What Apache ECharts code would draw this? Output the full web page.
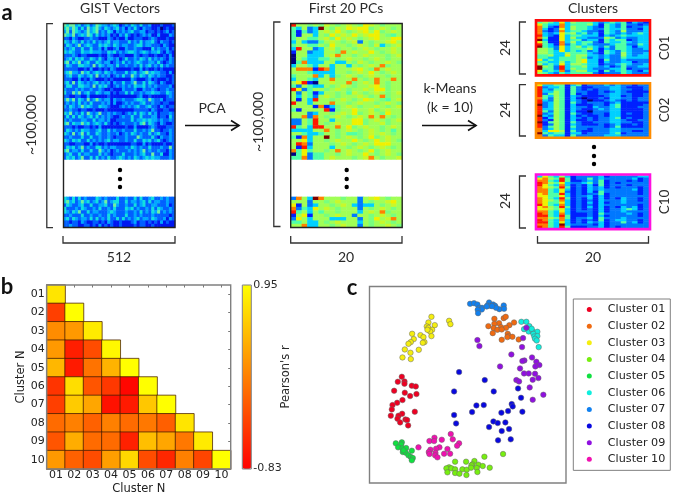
<!DOCTYPE html>
<html><head><meta charset="utf-8">
<style>html,body{margin:0;padding:0;background:#fff}#c{width:675px;height:496px}</style>
<script src="https://cdn.jsdelivr.net/npm/echarts@6/dist/echarts.min.js"></script>
</head><body><div id="c"></div>
<script>
const jetColors=['#00007f','#0020ff','#0078ff','#00d0ff','#50ffa6','#a0ff56','#f0f000','#ff8000','#ff1800','#7f0000'];
const gistColors=['#00007f','#0018f0','#0060ff','#00a8ff','#10e0e0','#70f0a0'];
const autumnColors=['#ff0000','#ffff00'];
const gistTop=[
"54553423423543323431232432422311121112","45364242534532432342313242132211201211","35254323534523243132323422331221212312","54352343542423231213242121232311311132",
"22132112232211132121131122211232111211","43243242324232342332224232423342132212","24323523432243432432332234423322213211","32342242242231311231132232211142322312",
"43432243343332243423234432343233421321","22232122111121132112211132122112112131","23424342243242133231242232432423232132","45243523422432331232423234322332421232",
"24322443325243233242232232423423242322","22222112131121213211111211312112121111","34533253423432432322242342345343322131","23422432342523231232422532432432322112",
"22211312132111212111111321112312111212","34252432323423231322422352242432132112","24422443325243421232323243342323222231","32223232232232112111322231132232122322",
"42253523422432331212242422323343322432","22112211311111121111111112311211111232","35352432523532331322322234432532231222","23232423242223231311232322342232212211",
"32432353432243321112323234223422132122","22322122112111211111111122222132112211","43523242532352232322123242432423122232","24242432342423232112322422422233122142",
"32322233224233231122222423343433232232","45243353423432421212322232452432132112","22212112212131111111121131111232111222","24323243322342242322322242232352212232",
"43252352422432232231232432322423422132","22322242242232232122232225322242132232","43243422423232342332232242243423421232","22112221131211211111111221131211112112",
"24342352322442323322232432322422232252","45233242242253231232223232352322322132","23422423322242321222422232342252241132","24342352242423242234323243234343322232"];
const gistBottom=[
"43242423222432322242232242422342232322","45342353423423523442242332342423322322","24322342242233422532232242342233222312","42223243223242232422243423223242432232",
"43243522423322234322232232423243523232","22322242232232242322242232322232222212","34243233242423242242423234233243223132","22122132112212132112111231221212131211",
"22322112212131212112111121221121111111"];
const pcTop=[
"855a5ab5a5b5a6b5a555","4352395ab56b66a5b5a5","414235b565a5b656a5b5","415535a65b565b665a45","455445ba65b5a5b65566",
"3532245b5a5b25a55b65","455445a655a5b5ab3a5b","3855235ba55a5b5a55b5","15523355a75b5565a5b5","0553335b755a5b555a5b",
"05433445a5b55a5b5a55","04733355335ab5a55b5a","355435535535a5b57a55","57771873555b65a75b55","5554333355a5b565a5b5",
"45557353a5b5a5b55a55","3554355755575a575575","5681055b557a5b575a55","4254335a5b5a55b65a55","862455a5b5a55b566a55",
"52541355a54b5a5b5a5b","535425b5a555b5a57a55","5153855a5b5a56b5a45b","8553555755a5b55a5b5a","55551713a5b5a55b5a5b",
"41555581a55655ba5b55","5552355a5b56a5b5a655","557275a5b5a5b57575a5","2254855355566a5b5a5b","225485a5b5566a55ba55",
"84538855756a5b55a5b5","33335575a5b5a5b5a545","55433455a544a5b5b5a5","41735595a5b5a56a5b55","556355a5b5565a565b5a",
"5872555a5b5a5b566655","5183555355a5b5a5b5a5","746455a575b5a56a5b55","04624455a5b5565a5b5a","4472445b555a5b75a55b"];
const pcBottom=["275397555a5525b65a55","555255a5b55525a55b65","6152355a5b532335a5b5","724365b5a55525a5b5a5","84535455a55535b57a55",
"156155a5b55255a5b5a5","26535553335525a65b75","445335a5b55535a5b5a5","5573355a5b5525a55b5a"];
const halfSteps={a:4.5,b:5.5};
const c01=["45436354443234341321","64337344453143242212","74217354432143241223","73126354432243342213","72127344322143252223","73236453423143232343",
"83216344333132343333","74116353322254232233","93116344233143441233","64117353442143343233","84317243432223442243","94326345343242443133",
"55426344453132443223","55436343423143243222","55433544432143253223","44533645533232253233","44334445423232243333","63434445633142232222",
"44335345633132233122","53436355433122343223","95428344533231242233","94428354432223341222","63437245533142343213","54324344442122243222"];
const c02=["63344134122232322122","82334142112223321112","83244142121223322112","83354142211212321111","82454141211223322112","84354132111123312112",
"74254131011213322122","83254132101123212122","82354142122212311111","92354131112213411112","82354132213223411122","83354132112323311112",
"84254131102223311112","82354142112213312112","93254131211213311112","81354132121223412112","82154131121223321122","91454142112223322112",
"81254132111212311212","82454142222212411112","72354132212223322222","73665142112223322112","94344133122223412222","72433142222233322222"];
const c10=["36435312222312222233","67548412242322222312","77438411232412221212","87546322342412122222","86437312131412221222","76548412132312122212",
"77436312132322222312","77436212131422222212","67448312122412222212","66446312231312222222","76438412131312132212","76547312121322232212",
"76446312131312232222","86437312121322222212","67548412131312132312","66546312121312234312","77436312221312232222","87437311121422223212",
"88438411121312222212","77547412231422232222","87437312121412332212","88436312132312242312","77439322221312222222","87438411122312122222"];
const corrLabels=['01','02','03','04','05','06','07','08','09','10'];
const corrValues=[
[0.77],
[-0.39,0.95],
[0.15,0.24,0.81],
[0.24,-0.62,-0.30,0.90],
[0.45,-0.65,-0.03,0.42,0.95],
[-0.47,0.72,-0.24,-0.44,-0.79,0.95],
[-0.39,0.59,0.33,-0.71,-0.65,0.56,0.95],
[-0.08,0.06,-0.15,0.06,-0.08,0.01,-0.17,0.77],
[-0.24,0.38,-0.08,-0.08,-0.60,0.50,0.33,0.01,0.81],
[0.24,-0.15,-0.30,0.27,0.68,-0.30,-0.56,0.06,-0.35,0.95]];
const clusterNames=['Cluster 01','Cluster 02','Cluster 03','Cluster 04','Cluster 05','Cluster 06','Cluster 07','Cluster 08','Cluster 09','Cluster 10'];
const clusterColors=['#ee0022','#f06a10','#f5ee10','#77ee10','#10e040','#10eedd','#1080f0','#0808e0','#9010e0','#f010b0'];
const p01=[[185,319],[173,334],[193,333],[193,340],[215,346],[227,348],[162,361],[194,367],[210,377],[229,371],[187,389],[171,397],[157,404],[155,417],[224,424],[152,436],[186,430],[175,436],[172,445],[196,447],[201,449],[180,456],[204,465]];
const p02=[[463,145],[491,143],[497,139],[477,158],[463,160],[522,156],[508,164],[445,167],[461,173],[483,170],[472,178],[498,172],[485,177],[458,188],[503,190],[506,197],[517,199],[485,208],[536,207],[502,200]];
const p03=[[274,139],[265,156],[284,164],[260,168],[265,172],[276,178],[270,183],[327,151],[331,161],[216,190],[241,194],[250,200],[221,206],[212,215],[205,220],[253,215],[248,217],[194,237],[236,238],[211,247],[187,261],[212,266],[274,197],[262,178]];
const p04=[[433,559],[489,551],[345,574],[378,574],[403,572],[397,582],[394,585],[415,583],[428,587],[449,592],[410,593],[327,591],[319,594],[334,594],[345,597],[367,597],[380,598],[393,592],[322,606],[345,608],[358,610],[379,614],[412,605]];
const p05=[[185,516],[167,519],[183,522],[174,531],[187,534],[198,533],[215,541],[188,545],[197,547],[205,555],[212,560],[218,563],[215,570],[190,540]];
const p06=[[544,154],[559,154],[568,167],[552,176],[570,178],[566,183],[578,183],[592,184],[580,190],[583,198],[592,197],[585,205],[590,210],[596,230],[575,175]];
const p07=[[390,100],[402,98],[412,102],[418,112],[426,112],[425,117],[413,118],[414,128],[447,96],[442,105],[450,106],[459,102],[465,106],[478,116],[491,105],[492,115],[468,112],[440,108],[456,107]];
const p08=[[357,305],[434,329],[342,363],[461,363],[534,354],[543,382],[409,405],[431,404],[515,401],[518,408],[396,425],[342,434],[484,427],[504,422],[547,424],[348,459],[460,453],[473,458],[496,456],[447,470],[507,476],[485,482],[474,510],[512,507]];
const p09=[[559,172],[549,203],[412,209],[418,227],[546,230],[514,252],[576,261],[553,270],[547,272],[589,274],[480,288],[598,284],[586,288],[540,294],[552,309],[566,309],[585,310],[595,323],[578,328],[529,329],[537,333],[569,351],[610,373],[578,388]];
const p10=[[332,491],[283,502],[338,507],[268,512],[282,512],[305,508],[357,519],[351,526],[235,531],[322,536],[298,531],[288,535],[271,538],[266,545],[286,548],[268,551],[312,550],[330,550],[285,555],[292,561]];
const clusterPoints=[p01,p02,p03,p04,p05,p06,p07,p08,p09,p10];

const grids=[
 {left:63.5,top:23.5,width:111.5,height:204},
 {left:290.7,top:23.5,width:111.5,height:204},
 {left:537,top:21.5,width:112,height:53},
 {left:537,top:84.3,width:112,height:52.5},
 {left:537,top:175.6,width:112,height:52.5},
 {left:46.7,top:285,width:184,height:184},
 {left:369.5,top:286.5,width:196.5,height:196.5}
];
const xAxis=[],yAxis=[],series=[];
function cat(n){return Array.from({length:n},(_,i)=>String(i));}
function cell(ch){return ch in halfSteps?halfSteps[ch]:+ch;}
function addHeat(g,rowsList){
  const nc=rowsList[0][0].length;let nr=0;const data=[];
  rowsList.forEach(rs=>{rs.forEach(s=>{if(s)[...s].forEach((ch,c)=>data.push([c,nr,cell(ch)]));nr++;});});
  xAxis.push({gridIndex:g,type:'category',data:cat(nc),show:false});
  yAxis.push({gridIndex:g,type:'category',data:cat(nr),inverse:true,show:false});
  series.push({type:'heatmap',xAxisIndex:xAxis.length-1,yAxisIndex:yAxis.length-1,data,progressive:0,animation:false,silent:true,itemStyle:{borderWidth:0}});
}
const gap=new Array(11).fill('');
addHeat(0,[gistTop,gap,gistBottom]);
addHeat(1,[pcTop,gap,pcBottom]);
addHeat(2,[c01]);addHeat(3,[c02]);addHeat(4,[c10]);

// correlation matrix
const corrData=[];corrValues.forEach((r,i)=>r.forEach((v,j)=>corrData.push([j,i,v])));
const tk={show:true,inside:true,length:2.5,alignWithLabel:true,lineStyle:{color:'#777'}};
const corrLbl={fontFamily:'DejaVu Sans',fontSize:11,color:'#222'};
const corrName={fontFamily:'DejaVu Sans',fontSize:11.5,color:'#222'};
xAxis.push({gridIndex:5,type:'category',data:corrLabels,axisLine:{show:false},axisTick:tk,axisLabel:Object.assign({margin:1},corrLbl),name:'Cluster N',nameLocation:'middle',nameGap:14,nameTextStyle:corrName,splitLine:{show:false}});
yAxis.push({gridIndex:5,type:'category',data:corrLabels,inverse:true,axisLine:{show:false},axisTick:tk,axisLabel:Object.assign({margin:2},corrLbl),name:'Cluster N',nameLocation:'middle',nameGap:17,nameTextStyle:corrName,splitLine:{show:false}});
const xb=xAxis.length-1,yb=yAxis.length-1;
xAxis.push({gridIndex:5,type:'category',position:'top',data:corrLabels,axisLine:{show:false},axisTick:tk,axisLabel:{show:false}});
yAxis.push({gridIndex:5,type:'category',position:'right',inverse:true,data:corrLabels,axisLine:{show:false},axisTick:tk,axisLabel:{show:false}});
series.push({type:'heatmap',xAxisIndex:xb,yAxisIndex:yb,data:corrData,animation:false,silent:true,itemStyle:{borderColor:'rgba(70,30,0,0.75)',borderWidth:1}});
const corrIdx=series.length-1;

// scatter
xAxis.push({gridIndex:6,type:'value',min:88,max:678,show:false,splitLine:{show:false}});
yAxis.push({gridIndex:6,type:'value',min:48,max:638,inverse:true,show:false,splitLine:{show:false}});
const xs=xAxis.length-1,ys=yAxis.length-1;
clusterNames.forEach((n,i)=>series.push({type:'scatter',name:n,xAxisIndex:xs,yAxisIndex:ys,data:clusterPoints[i],symbol:'circle',symbolSize:5.5,animation:false,silent:true,
  itemStyle:{color:clusterColors[i],opacity:1,borderColor:'#666',borderWidth:0.5}}));

const ink='#2a2a2a';
const lato='Lato, Carlito, sans-serif';
function T(text,x,y,size,opt){opt=opt||{};return {type:'text',x,y,rotation:opt.rot||0,z:50,style:{text,fill:opt.fill||ink,textAlign:opt.align||'center',textVerticalAlign:'middle',
  font:(opt.bold?'bold ':'')+size+'px '+(opt.fam||lato)}};}
function B(points,w,col){return {type:'polyline',z:50,shape:{points},style:{stroke:col||'#333',lineWidth:w||1.3,fill:null}};}
function F(x,y,w,h,col,lw){return {type:'rect',z:40,shape:{x,y,width:w,height:h},style:{stroke:col,lineWidth:lw,fill:null}};}
function D(x,y){return {type:'circle',z:50,shape:{cx:x,cy:y,r:2.2},style:{fill:'#000'}};}
const R=Math.PI/2;
const graphicEls=[
 T('a',7,13,22,{bold:true,fill:'#111'}),T('b',7,287,22,{bold:true,fill:'#111'}),T('c',352,288,22,{bold:true,fill:'#111'}),
 T('GIST Vectors',120,8,14),T('First 20 PCs',346,8,14),T('Clusters',593,8,14),
 T('~100,000',31,125,14,{rot:R}),T('~100,000',258,122,14,{rot:R}),
 T('512',119,257,14),T('20',346,257,14),T('20',593,257,14),
 T('PCA',212,108,14),T('k-Means',450,88,14),T('(k = 10)',450,107,14),
 T('24',505,48,14,{rot:R}),T('24',505,110,14,{rot:R}),T('24',505,201,14,{rot:R}),
 T('C01',665,48,13.5,{rot:R}),T('C02',665,110,13.5,{rot:R}),T('C10',665,202,13.5,{rot:R}),
 B([[53,23.7],[46.8,23.7],[46.8,227.7],[53,227.7]]),B([[280.5,22],[273.8,22],[273.8,226.5],[280.5,226.5]]),
 B([[63,236],[63,243],[175,243],[175,236]]),B([[290.7,236],[290.7,243],[402,243],[402,236]]),B([[537.5,236],[537.5,243],[648.5,243],[648.5,236]]),
 B([[526,22],[519.5,22],[519.5,74],[526,74]]),B([[526,84.7],[519.5,84.7],[519.5,136],[526,136]]),B([[526,176],[519.5,176],[519.5,228],[526,228]]),
 {type:'line',z:50,shape:{x1:185,y1:125.5,x2:239,y2:125.5},style:{stroke:'#111',lineWidth:1.7}},B([[231,120.5],[239,125.5],[231,130.5]],1.7,'#111'),
 {type:'line',z:50,shape:{x1:422,y1:125.5,x2:476,y2:125.5},style:{stroke:'#111',lineWidth:1.7}},B([[468,120.5],[476,125.5],[468,130.5]],1.7,'#111'),
 D(120,170),D(120,179),D(120,187),D(346.7,170),D(346.7,179),D(346.7,187),D(594,147),D(594,156),D(594,164),
 F(63.5,23.5,111.5,204,'#222',1.4),F(290.7,23.5,111.5,204,'#222',1.4),
 F(536,20.4,114,55,'#ff0a0a',2.6),F(536,83.2,114,54.6,'#ff8c00',2.6),F(536,174.5,114,54.6,'#ff10e0',2.6),
 F(46.7,285,184,184,'#808080',1.4),F(242.3,285,9,184,'#808080',1),F(369.5,286.5,196.5,196.5,'#808080',1.4),
 T('0.95',253.3,285.5,11,{align:'left',fam:'DejaVu Sans'}),T('-0.83',253.3,468.5,11,{align:'left',fam:'DejaVu Sans'}),
 T("Pearson's r",286.5,377,11.5,{rot:R,fam:'DejaVu Sans'})
];

const chart=echarts.init(document.getElementById('c'),null,{renderer:'canvas'});
chart.setOption({
 animation:false,backgroundColor:'#fff',
 grid:grids.map(g=>Object.assign({show:false,containLabel:false,outerBoundsMode:'none'},g)),
 xAxis,yAxis,series,
 visualMap:[
  {type:'continuous',seriesIndex:0,min:0,max:5,show:false,inRange:{color:gistColors}},
  {type:'continuous',seriesIndex:[1,2,3,4],min:0,max:9,show:false,inRange:{color:jetColors}},
  {type:'continuous',seriesIndex:corrIdx,min:-0.83,max:0.95,show:true,left:242.3,top:285,itemWidth:9,itemHeight:184,padding:0,showLabel:false,text:null,calculable:false,hoverLink:false,inRange:{color:autumnColors}}
 ],
 legend:{show:true,data:clusterNames,orient:'vertical',left:573.3,top:299,padding:[4,5,4.5,13.5],itemWidth:27,itemHeight:5,itemGap:3.65,selectedMode:false,borderColor:'#808080',borderWidth:1,icon:'circle',
  itemStyle:{borderWidth:0,opacity:1},
  textStyle:{fontFamily:'DejaVu Sans',fontSize:11.2,color:'#222',lineHeight:13}},
 graphic:{elements:graphicEls}
});
</script></body></html>
